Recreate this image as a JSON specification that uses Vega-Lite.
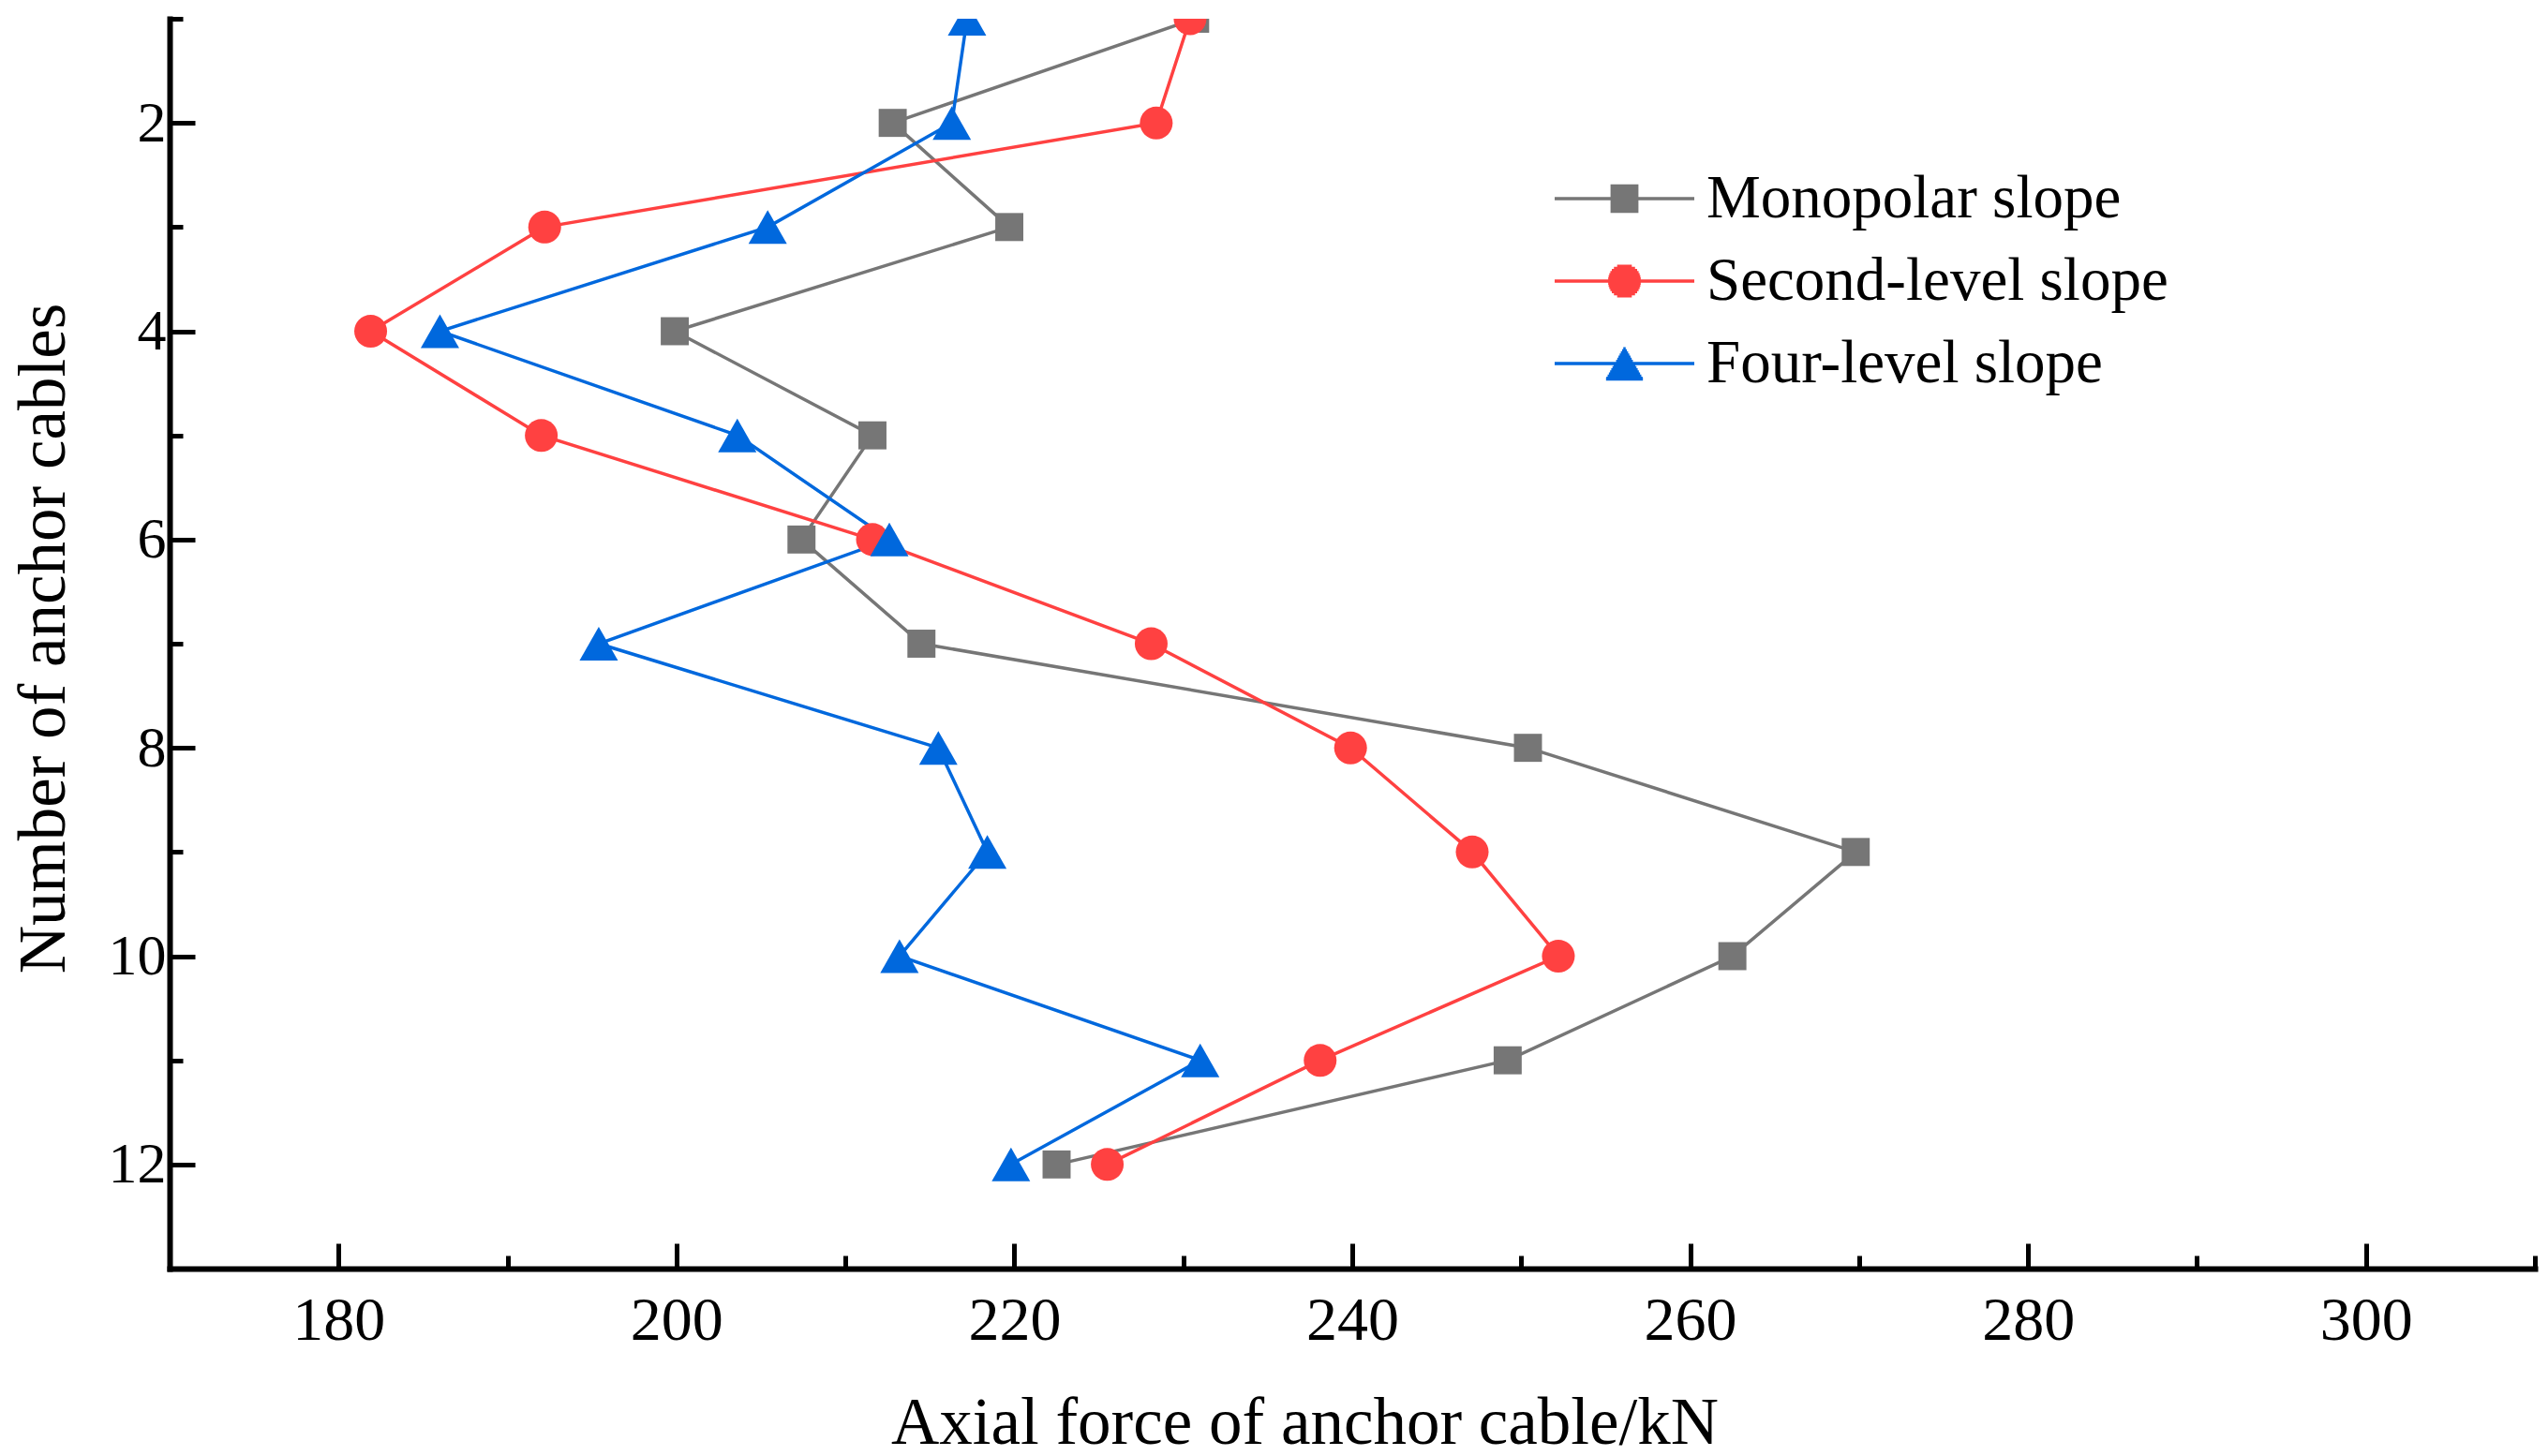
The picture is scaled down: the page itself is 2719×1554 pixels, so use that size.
{
  "$schema": "https://vega.github.io/schema/vega-lite/v6.json",
  "width": 2524,
  "height": 1334,
  "autosize": "none",
  "padding": {"left": 181, "top": 20, "right": 14, "bottom": 200},
  "background": "white",
  "config": {"view": {"stroke": null}, "font": "Liberation Serif"},
  "data": {
    "values": [
      {"series": "Monopolar slope", "n": 1, "force": 230.7},
      {"series": "Monopolar slope", "n": 2, "force": 212.8},
      {"series": "Monopolar slope", "n": 3, "force": 219.7},
      {"series": "Monopolar slope", "n": 4, "force": 199.9},
      {"series": "Monopolar slope", "n": 5, "force": 211.6},
      {"series": "Monopolar slope", "n": 6, "force": 207.4},
      {"series": "Monopolar slope", "n": 7, "force": 214.5},
      {"series": "Monopolar slope", "n": 8, "force": 250.4},
      {"series": "Monopolar slope", "n": 9, "force": 269.8},
      {"series": "Monopolar slope", "n": 10, "force": 262.5},
      {"series": "Monopolar slope", "n": 11, "force": 249.2},
      {"series": "Monopolar slope", "n": 12, "force": 222.5},
      {"series": "Second-level slope", "n": 1, "force": 230.4},
      {"series": "Second-level slope", "n": 2, "force": 228.4},
      {"series": "Second-level slope", "n": 3, "force": 192.2},
      {"series": "Second-level slope", "n": 4, "force": 181.9},
      {"series": "Second-level slope", "n": 5, "force": 192.0},
      {"series": "Second-level slope", "n": 6, "force": 211.6},
      {"series": "Second-level slope", "n": 7, "force": 228.1},
      {"series": "Second-level slope", "n": 8, "force": 239.9},
      {"series": "Second-level slope", "n": 9, "force": 247.1},
      {"series": "Second-level slope", "n": 10, "force": 252.2},
      {"series": "Second-level slope", "n": 11, "force": 238.1},
      {"series": "Second-level slope", "n": 12, "force": 225.5},
      {"series": "Four-level slope", "n": 1, "force": 217.2},
      {"series": "Four-level slope", "n": 2, "force": 216.3},
      {"series": "Four-level slope", "n": 3, "force": 205.4},
      {"series": "Four-level slope", "n": 4, "force": 186.0},
      {"series": "Four-level slope", "n": 5, "force": 203.6},
      {"series": "Four-level slope", "n": 6, "force": 212.6},
      {"series": "Four-level slope", "n": 7, "force": 195.4},
      {"series": "Four-level slope", "n": 8, "force": 215.5},
      {"series": "Four-level slope", "n": 9, "force": 218.4},
      {"series": "Four-level slope", "n": 10, "force": 213.2},
      {"series": "Four-level slope", "n": 11, "force": 231.0},
      {"series": "Four-level slope", "n": 12, "force": 219.8}
    ]
  },
  "resolve": {"axis": {"x": "independent", "y": "independent"}},
  "layer": [
    {
      "mark": {"type": "line", "strokeWidth": 3.5, "clip": true},
      "encoding": {
        "x": {
          "field": "force",
          "type": "quantitative",
          "scale": {"domain": [170, 310], "nice": false, "zero": false},
          "axis": {
            "orient": "bottom",
            "title": "Axial force of anchor cable/kN",
            "values": [180, 200, 220, 240, 260, 280, 300],
            "labelFont": "Liberation Serif",
            "labelFontSize": 66,
            "labelColor": "black",
            "labelPadding": 50,
            "labelFlush": false,
            "labelOverlap": false,
            "tickSize": -27,
            "tickWidth": 5,
            "tickColor": "black",
            "domainWidth": 6,
            "domainColor": "black",
            "domainCap": "square",
            "grid": false,
            "titleFont": "Liberation Serif",
            "titleFontSize": 71,
            "titleFontWeight": "normal",
            "titleColor": "black",
            "titleX": 1211,
            "titleY": 186,
            "titleBaseline": "alphabetic",
            "titleAlign": "center"
          }
        },
        "y": {
          "field": "n",
          "type": "quantitative",
          "scale": {"domain": [1, 13], "reverse": true, "nice": false, "zero": false},
          "axis": {
            "orient": "left",
            "title": "Number of anchor cables",
            "values": [2, 4, 6, 8, 10, 12],
            "labelFont": "Liberation Serif",
            "labelFontSize": 62,
            "labelColor": "black",
            "labelPadding": 31,
            "labelFlush": false,
            "labelOverlap": false,
            "tickSize": -27,
            "tickWidth": 5,
            "tickColor": "black",
            "domainWidth": 6,
            "domainColor": "black",
            "domainCap": "square",
            "grid": false,
            "titleFont": "Liberation Serif",
            "titleFontSize": 71,
            "titleFontWeight": "normal",
            "titleColor": "black",
            "titleX": -113,
            "titleY": 661,
            "titleAngle": 270,
            "titleBaseline": "alphabetic",
            "titleAlign": "center"
          }
        },
        "color": {
          "field": "series",
          "type": "nominal",
          "scale": {
            "domain": ["Monopolar slope", "Second-level slope", "Four-level slope"],
            "range": ["#767676", "#FF4141", "#0068DD"]
          },
          "legend": {
            "title": null,
            "orient": "none",
            "legendX": 1476,
            "legendY": 162,
            "padding": 0,
            "symbolSize": 22201,
            "symbolStrokeWidth": 3.5,
            "symbolOpacity": 1,
            "symbolFillColor": "transparent",
            "clipHeight": 60,
            "rowPadding": 23,
            "labelFont": "Liberation Serif",
            "labelFontSize": 65,
            "labelOffset": 11,
            "labelColor": "black",
            "labelLimit": 0
          }
        },
        "order": {"field": "n", "type": "quantitative"}
      }
    },
    {
      "mark": {"type": "point", "filled": false, "size": 0, "strokeWidth": 3.5, "opacity": 1},
      "encoding": {
        "x": {
          "field": "force",
          "type": "quantitative",
          "scale": {"domain": [170, 310], "nice": false, "zero": false},
          "axis": {
            "orient": "bottom",
            "title": null,
            "values": [190, 210, 230, 250, 270, 290, 310],
            "labels": false,
            "domain": false,
            "grid": false,
            "tickSize": -14,
            "tickWidth": 5,
            "tickColor": "black"
          }
        },
        "y": {
          "field": "n",
          "type": "quantitative",
          "scale": {"domain": [1, 13], "reverse": true, "nice": false, "zero": false},
          "axis": {
            "orient": "left",
            "title": null,
            "values": [1, 3, 5, 7, 9, 11],
            "labels": false,
            "domain": false,
            "grid": false,
            "tickSize": -14,
            "tickWidth": 5,
            "tickColor": "black"
          }
        },
        "color": {
          "field": "series",
          "type": "nominal",
          "scale": {
            "domain": ["Monopolar slope", "Second-level slope", "Four-level slope"],
            "range": ["#767676", "#FF4141", "#0068DD"]
          },
          "legend": {
            "title": null,
            "orient": "none",
            "legendX": 1476,
            "legendY": 162,
            "padding": 0,
            "symbolSize": 22201,
            "symbolStrokeWidth": 3.5,
            "symbolOpacity": 1,
            "symbolFillColor": "transparent",
            "clipHeight": 60,
            "rowPadding": 23,
            "labelFont": "Liberation Serif",
            "labelFontSize": 65,
            "labelOffset": 11,
            "labelColor": "black",
            "labelLimit": 0
          }
        },
        "shape": {
          "field": "series",
          "type": "nominal",
          "scale": {
            "domain": ["Monopolar slope", "Second-level slope", "Four-level slope"],
            "range": [
              "M-1,0H1M-0.2,-0.18H0.2M-0.2,-0.15H0.2M-0.2,-0.12H0.2M-0.2,-0.09H0.2M-0.2,-0.06H0.2M-0.2,-0.03H0.2M-0.2,0H0.2M-0.2,0.03H0.2M-0.2,0.06H0.2M-0.2,0.09H0.2M-0.2,0.12H0.2M-0.2,0.15H0.2M-0.2,0.18H0.2",
              "M-1,0H1M-0.105,-0.21H0.105M-0.151,-0.18H0.151M-0.181,-0.15H0.181M-0.202,-0.12H0.202M-0.217,-0.09H0.217M-0.227,-0.06H0.227M-0.233,-0.03H0.233M-0.235,0H0.235M-0.233,0.03H0.233M-0.227,0.06H0.227M-0.217,0.09H0.217M-0.202,0.12H0.202M-0.181,0.15H0.181M-0.151,0.18H0.151M-0.105,0.21H0.105",
              "M-1,0H1M-0.017,-0.21H0.017M-0.034,-0.18H0.034M-0.052,-0.15H0.052M-0.069,-0.12H0.069M-0.086,-0.09H0.086M-0.103,-0.06H0.103M-0.12,-0.03H0.12M-0.138,0H0.138M-0.155,0.03H0.155M-0.172,0.06H0.172M-0.189,0.09H0.189M-0.206,0.12H0.206M-0.223,0.15H0.223M-0.241,0.18H0.241M-0.258,0.21H0.258M-0.264,0.22H0.264"
            ]
          },
          "legend": {
            "title": null,
            "orient": "none",
            "legendX": 1476,
            "legendY": 162,
            "padding": 0,
            "symbolSize": 22201,
            "symbolStrokeWidth": 3.5,
            "symbolOpacity": 1,
            "symbolFillColor": "transparent",
            "clipHeight": 60,
            "rowPadding": 23,
            "labelFont": "Liberation Serif",
            "labelFontSize": 65,
            "labelOffset": 11,
            "labelColor": "black",
            "labelLimit": 0
          }
        }
      }
    },
    {
      "transform": [{"filter": {"field": "series", "equal": "Monopolar slope"}}],
      "mark": {"type": "point", "filled": true, "opacity": 1, "size": 1681, "clip": true, "color": "#767676", "shape": "M-0.73,-0.73H0.73V0.73H-0.73Z"},
      "encoding": {
        "x": {"field": "force", "type": "quantitative", "scale": {"domain": [170, 310], "nice": false, "zero": false}, "axis": null},
        "y": {"field": "n", "type": "quantitative", "scale": {"domain": [1, 13], "reverse": true, "nice": false, "zero": false}, "axis": null}
      }
    },
    {
      "transform": [{"filter": {"field": "series", "equal": "Second-level slope"}}],
      "mark": {"type": "point", "filled": true, "opacity": 1, "size": 1681, "clip": true, "color": "#FF4141", "shape": "M-0.854,0A0.854,0.854,0,1,1,0.854,0A0.854,0.854,0,1,1,-0.854,0Z"},
      "encoding": {
        "x": {"field": "force", "type": "quantitative", "scale": {"domain": [170, 310], "nice": false, "zero": false}, "axis": null},
        "y": {"field": "n", "type": "quantitative", "scale": {"domain": [1, 13], "reverse": true, "nice": false, "zero": false}, "axis": null}
      }
    },
    {
      "transform": [{"filter": {"field": "series", "equal": "Four-level slope"}}],
      "mark": {"type": "point", "filled": true, "opacity": 1, "size": 1681, "clip": true, "color": "#0068DD", "shape": "M0,-0.878L1,0.878H-1Z"},
      "encoding": {
        "x": {"field": "force", "type": "quantitative", "scale": {"domain": [170, 310], "nice": false, "zero": false}, "axis": null},
        "y": {"field": "n", "type": "quantitative", "scale": {"domain": [1, 13], "reverse": true, "nice": false, "zero": false}, "axis": null}
      }
    }
  ]
}
